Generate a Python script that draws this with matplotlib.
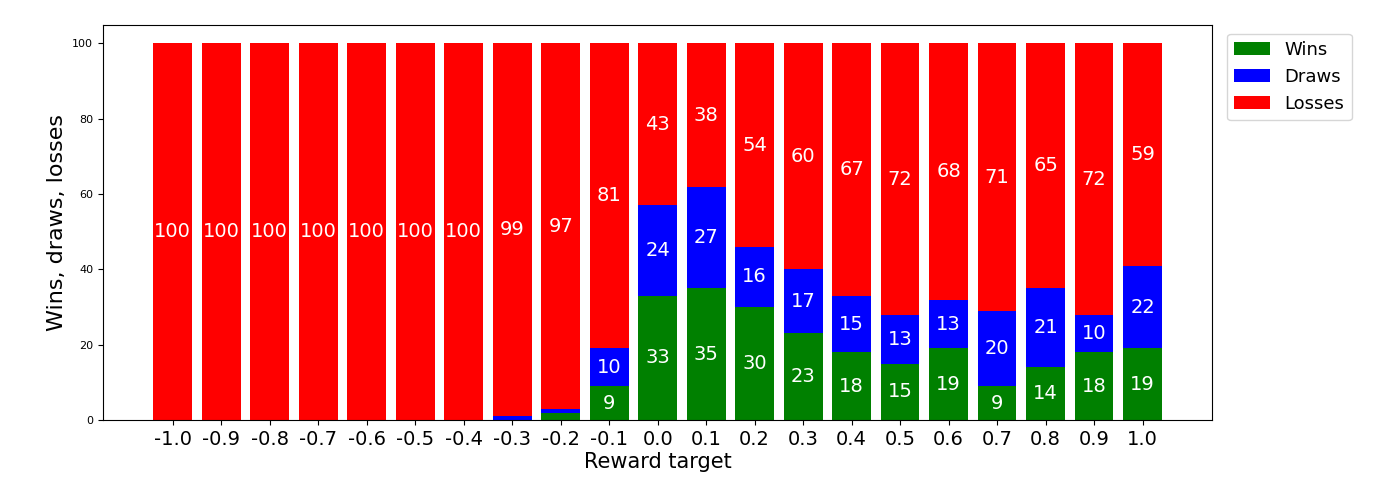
import matplotlib
matplotlib.use("Agg")
import matplotlib.pyplot as plt
import numpy as np

targets = ["-1.0","-0.9","-0.8","-0.7","-0.6","-0.5","-0.4","-0.3","-0.2","-0.1","0.0","0.1","0.2","0.3","0.4","0.5","0.6","0.7","0.8","0.9","1.0"]
wins   = [0,0,0,0,0,0,0,0,2,9,33,35,30,23,18,15,19,9,14,18,19]
draws  = [0,0,0,0,0,0,0,1,1,10,24,27,16,17,15,13,13,20,21,10,22]
losses = [100,100,100,100,100,100,100,99,97,81,43,38,54,60,67,72,68,71,65,72,59]

fig = plt.figure(figsize=(13.73,4.93), dpi=100)
ax = fig.add_axes([0.075, 0.148, 0.808, 0.802])
x = np.arange(len(targets))
w = np.array(wins); d = np.array(draws); l = np.array(losses)
bw = ax.bar(x, w, 0.8, color="green", label="Wins")
bd = ax.bar(x, d, 0.8, bottom=w, color="blue", label="Draws")
bl = ax.bar(x, l, 0.8, bottom=w+d, color="red", label="Losses")
for vals, bottoms in ((w, np.zeros_like(w)), (d, w), (l, w+d)):
    for xi, v, b in zip(x, vals, bottoms):
        if v >= 5:
            ax.text(xi, b + v/2, str(v), ha="center", va="center", color="white", fontsize=14)
ax.set_xticks(x)
ax.set_xticklabels(targets, fontsize=14)
ax.tick_params(axis="y", labelsize=8)
ax.set_xlabel("Reward target", fontsize=15, labelpad=2)
ax.set_ylabel("Wins, draws, losses", fontsize=16)
ax.legend(loc="upper left", bbox_to_anchor=(1.005, 1.0), fontsize=13)
fig.savefig("out.png", dpi=100)
